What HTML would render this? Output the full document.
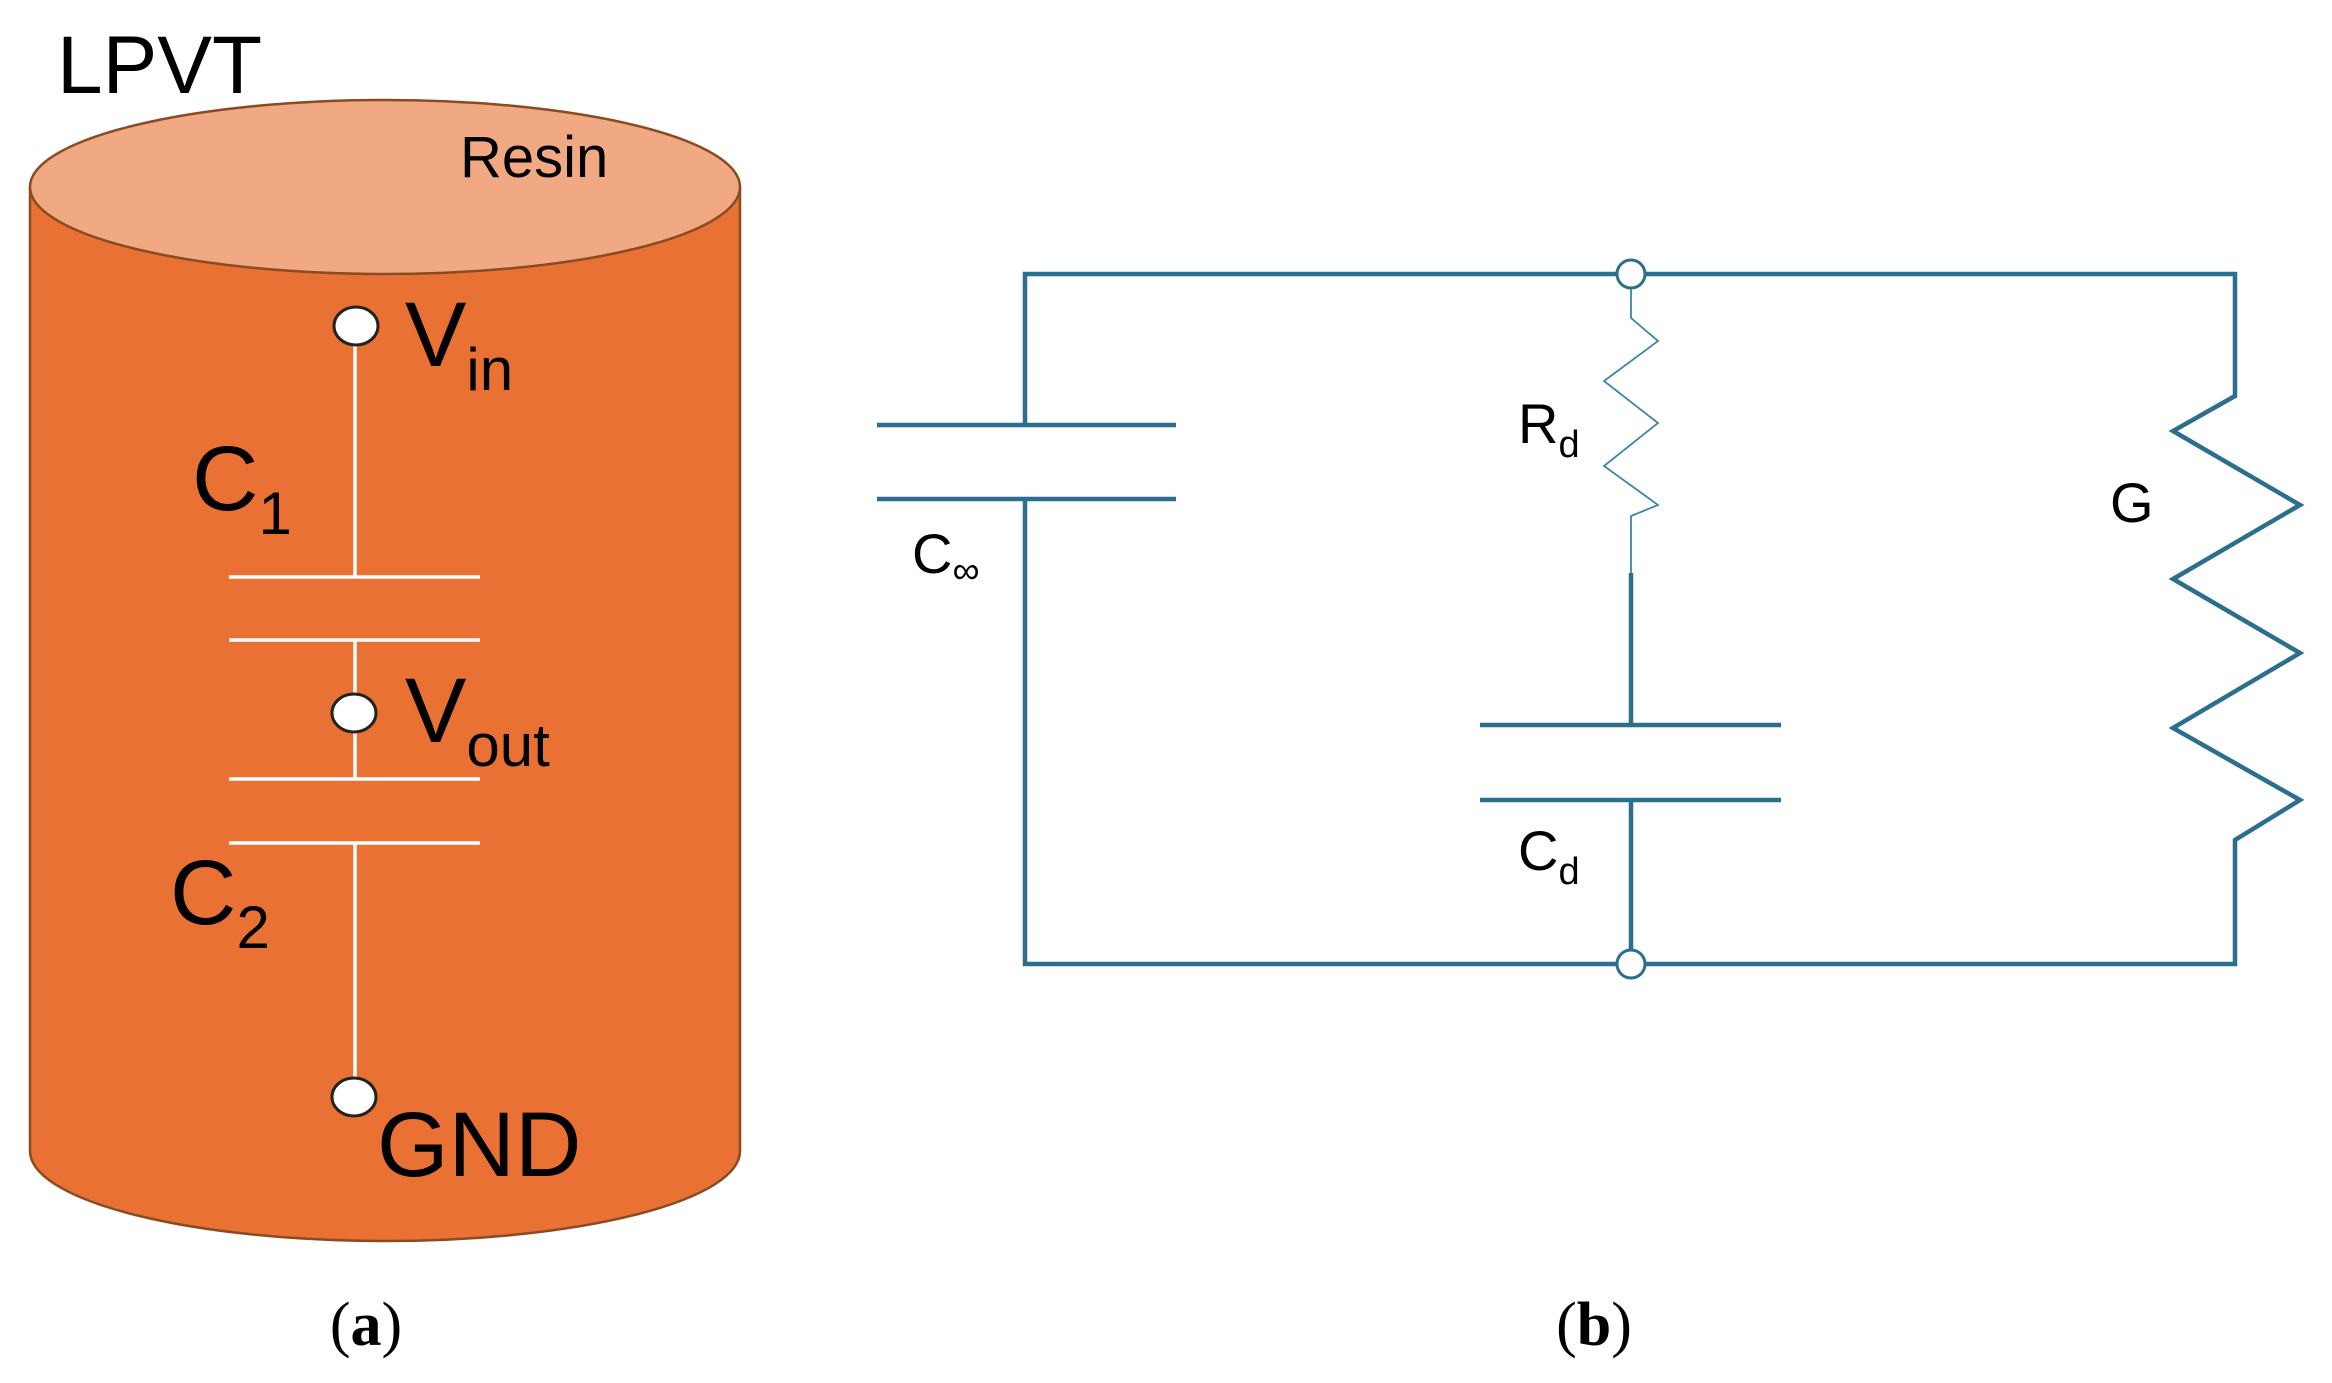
<!DOCTYPE html>
<html><head><meta charset="utf-8"><style>
html,body{margin:0;padding:0;background:#fff;}
svg{display:block;}
text{font-family:"Liberation Sans",sans-serif;}
</style></head><body>
<svg width="2332" height="1383" viewBox="0 0 2332 1383" xmlns="http://www.w3.org/2000/svg">
<!-- Cylinder -->
<path d="M30,187 L30,1151 A355,90 0 0 0 740,1151 L740,187 Z" fill="#e87133" stroke="#8a4a22" stroke-width="2.5"/>
<ellipse cx="385" cy="187" rx="355" ry="87" fill="#f0a982" stroke="#8a4a22" stroke-width="2.5"/>
<text x="57" y="93" font-size="82">LPVT</text>
<text x="460" y="177" font-size="58">Resin</text>
<!-- white circuit -->
<g stroke="#fff" stroke-width="3.5" fill="none">
<line x1="355" y1="336" x2="355" y2="577"/>
<line x1="229" y1="577" x2="480" y2="577"/>
<line x1="229" y1="640" x2="480" y2="640"/>
<line x1="355" y1="640" x2="355" y2="779"/>
<line x1="229" y1="779" x2="480" y2="779"/>
<line x1="229" y1="843" x2="480" y2="843"/>
<line x1="355" y1="843" x2="355" y2="1087"/>
</g>
<g fill="#fff" stroke="#222" stroke-width="3">
<ellipse cx="356" cy="326" rx="22" ry="19"/>
<ellipse cx="354" cy="713" rx="22" ry="19"/>
<ellipse cx="354" cy="1097" rx="22" ry="19"/>
</g>
<text x="405" y="366" font-size="92">V<tspan font-size="60" dy="24">in</tspan></text>
<text x="405" y="742" font-size="92">V<tspan font-size="60" dy="24">out</tspan></text>
<text x="377" y="1176" font-size="92">GND</text>
<text x="192" y="510" font-size="92">C<tspan font-size="60" dy="24">1</tspan></text>
<text x="170" y="924" font-size="92">C<tspan font-size="60" dy="24">2</tspan></text>
<text x="366" y="1345" font-size="62" text-anchor="middle" style="font-family:'Liberation Serif',serif">(<tspan font-weight="bold">a</tspan>)</text>
<!-- circuit b -->
<g stroke="#2b6e8e" stroke-width="4.5" fill="none">
<polyline points="1025,425 1025,274 2235,274 2235,396 2173,431 2300,505 2173,579 2300,653 2173,728 2300,800 2235,840 2235,964 1025,964 1025,499"/>
<line x1="877" y1="425" x2="1176" y2="425"/>
<line x1="877" y1="499" x2="1176" y2="499"/>
<line x1="1631" y1="573" x2="1631" y2="725"/>
<line x1="1480" y1="725" x2="1781" y2="725"/>
<line x1="1480" y1="800" x2="1781" y2="800"/>
<line x1="1631" y1="800" x2="1631" y2="964"/>
</g>
<polyline points="1631,284 1631,318 1658,341 1604,381 1658,423 1604,466 1658,505 1631,516 1631,573" stroke="#3f84a8" stroke-width="1.8" fill="none"/>
<circle cx="1631" cy="274" r="14" fill="#fff" stroke="#2b6e8e" stroke-width="3"/>
<circle cx="1631" cy="964" r="14" fill="#fff" stroke="#2b6e8e" stroke-width="3"/>
<text x="1518" y="443" font-size="56">R<tspan font-size="38" dy="14">d</tspan></text>
<text x="912" y="573" font-size="56">C<tspan font-size="38" dy="10">∞</tspan></text>
<text x="1518" y="870" font-size="56">C<tspan font-size="38" dy="14">d</tspan></text>
<text x="2110" y="522" font-size="56">G</text>
<text x="1594" y="1345" font-size="62" text-anchor="middle" style="font-family:'Liberation Serif',serif">(<tspan font-weight="bold">b</tspan>)</text>
</svg>
</body></html>
